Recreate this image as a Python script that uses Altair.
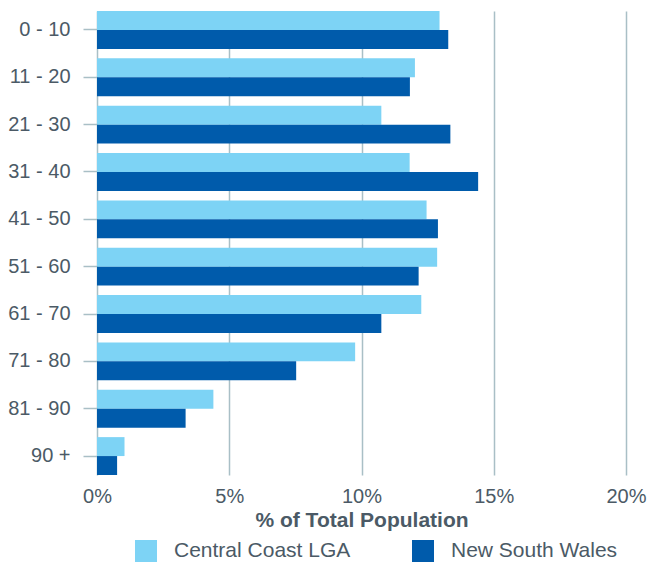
import altair as alt
import pandas as pd

categories = ["0 - 10", "11 - 20", "21 - 30", "31 - 40", "41 - 50",
              "51 - 60", "61 - 70", "71 - 80", "81 - 90", "90 +"]
series_names = ["Central Coast LGA", "New South Wales"]
central_coast = [12.95, 12.02, 10.75, 11.82, 12.46, 12.86, 12.26, 9.76, 4.40, 1.04]
nsw = [13.28, 11.83, 13.36, 14.41, 12.89, 12.16, 10.75, 7.53, 3.35, 0.76]
x_ticks = [0, 0.05, 0.10, 0.15, 0.20]

rows = []
for i, c in enumerate(categories):
    rows.append({"age": c, "series": series_names[0], "value": central_coast[i] / 100})
    rows.append({"age": c, "series": series_names[1], "value": nsw[i] / 100})
df = pd.DataFrame(rows)

text_color = "#4b5a66"
grid_color = "#a9bfc6"
font = "Liberation Sans"
fs = 21
tfs = 20

chart = alt.Chart(df).mark_bar().encode(
    y=alt.Y("age:N", sort=categories,
            scale=alt.Scale(paddingInner=0.2, paddingOuter=0),
            axis=alt.Axis(title=None, labelFontSize=tfs, labelColor=text_color,
                          labelFont=font, tickColor=grid_color, tickSize=14,
                          tickWidth=1.5, labelPadding=13, domain=False, grid=False)),
    yOffset=alt.YOffset("series:N", sort=series_names,
                        scale=alt.Scale(paddingInner=0, paddingOuter=0)),
    x=alt.X("value:Q", scale=alt.Scale(domain=[0, 0.2], nice=False),
            axis=alt.Axis(format=".0%", values=x_ticks, tickSize=0, domain=False,
                          gridColor=grid_color, gridWidth=1.5, labelFlush=False,
                          labelFontSize=tfs, labelColor=text_color, labelFont=font,
                          labelPadding=11,
                          title="% of Total Population", titleFontSize=fs,
                          titleFont=font, titleFontWeight="bold",
                          titleColor=text_color, titlePadding=3)),
    color=alt.Color("series:N",
                    scale=alt.Scale(domain=series_names, range=["#7dd3f5", "#005bab"]),
                    legend=alt.Legend(orient="none", legendX=38, legendY=529,
                                      direction="horizontal", title=None,
                                      symbolType="square", symbolSize=484,
                                      symbolStrokeWidth=0, symbolOpacity=1,
                                      labelFontSize=fs, labelFont=font,
                                      labelColor=text_color, labelOffset=17,
                                      labelLimit=400, columnPadding=61)),
).properties(
    width=529, height=464,
    autosize=alt.AutoSizeParams(type="none"),
    padding={"left": 89, "top": 3, "right": 22, "bottom": 87},
).configure_view(stroke=None)

chart.save("out.html", embed_options={"renderer": "svg", "actions": False})
